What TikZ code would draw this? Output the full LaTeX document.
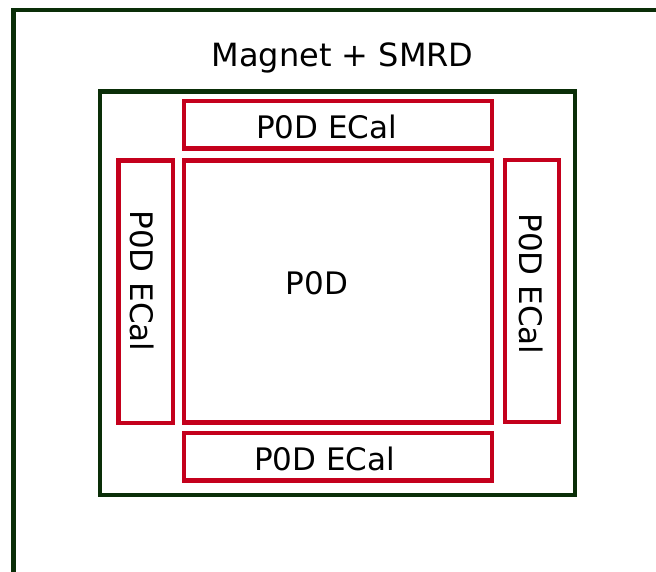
\documentclass[tikz,border=0pt]{standalone}
\usepackage{fontspec}
\setmainfont{DejaVu Sans}
\definecolor{framegreen}{RGB}{10,46,8}
\definecolor{boxred}{RGB}{196,0,28}
\tikzset{
  greenline/.style={draw=framegreen, line width=4.2pt},
  redbox/.style={draw=boxred, line width=4.2pt, rectangle, inner sep=0pt},
  greenbox/.style={draw=framegreen, line width=4.2pt, rectangle, inner sep=0pt},
  lbl/.style={font=\fontsize{31}{37}\selectfont, inner sep=0pt, text=black},
  titlelbl/.style={font=\fontsize{32}{38}\selectfont, inner sep=0pt, text=black},
}
\begin{document}
\begin{tikzpicture}[x=1pt,y=-1pt]
\useasboundingbox (0,0) rectangle (656,572);
\clip (0,0) rectangle (656,572);
% outer frame (Magnet + SMRD), continuing past the edges
\coordinate (fbl) at (13.5,575);
\coordinate (ftl) at (13.5,10);
\coordinate (ftr) at (660,10);
\draw[greenline] (fbl) -- (ftl) -- (ftr);
\node[titlelbl, anchor=base] (magnet) at (342.5,66.7) {Magnet + SMRD};
% inner green box
\node[greenbox, minimum width=475pt, minimum height=403.5pt] (inner) at (337.5,293.25) {};
% red boxes
\node[redbox, minimum width=308pt, minimum height=47.5pt] (ecaltop) at (338,124.75) {};
\node[redbox, minimum width=308pt, minimum height=262pt] (pod) at (338,291.5) {};
\node[redbox, minimum width=308pt, minimum height=47.5pt] (ecalbot) at (338,456.75) {};
\node[redbox, minimum width=54.5pt, minimum height=262.5pt] (ecalleft) at (145.75,291.75) {};
\node[redbox, minimum width=54pt, minimum height=262pt] (ecalright) at (531.7,291) {};
% labels
\node[lbl, anchor=base] (ecaltoplbl) at (326.7,138.3) {P0D ECal};
\node[lbl, anchor=base] (podlbl) at (317,294) {P0D};
\node[lbl, anchor=base] (ecalbotlbl) at (324.5,470) {P0D ECal};
\node[lbl, rotate=-90] (ecalleftlbl) at (142.5,281) {P0D ECal};
\node[lbl, rotate=-90] (ecalrightlbl) at (531,284) {P0D ECal};
\end{tikzpicture}
\end{document}
